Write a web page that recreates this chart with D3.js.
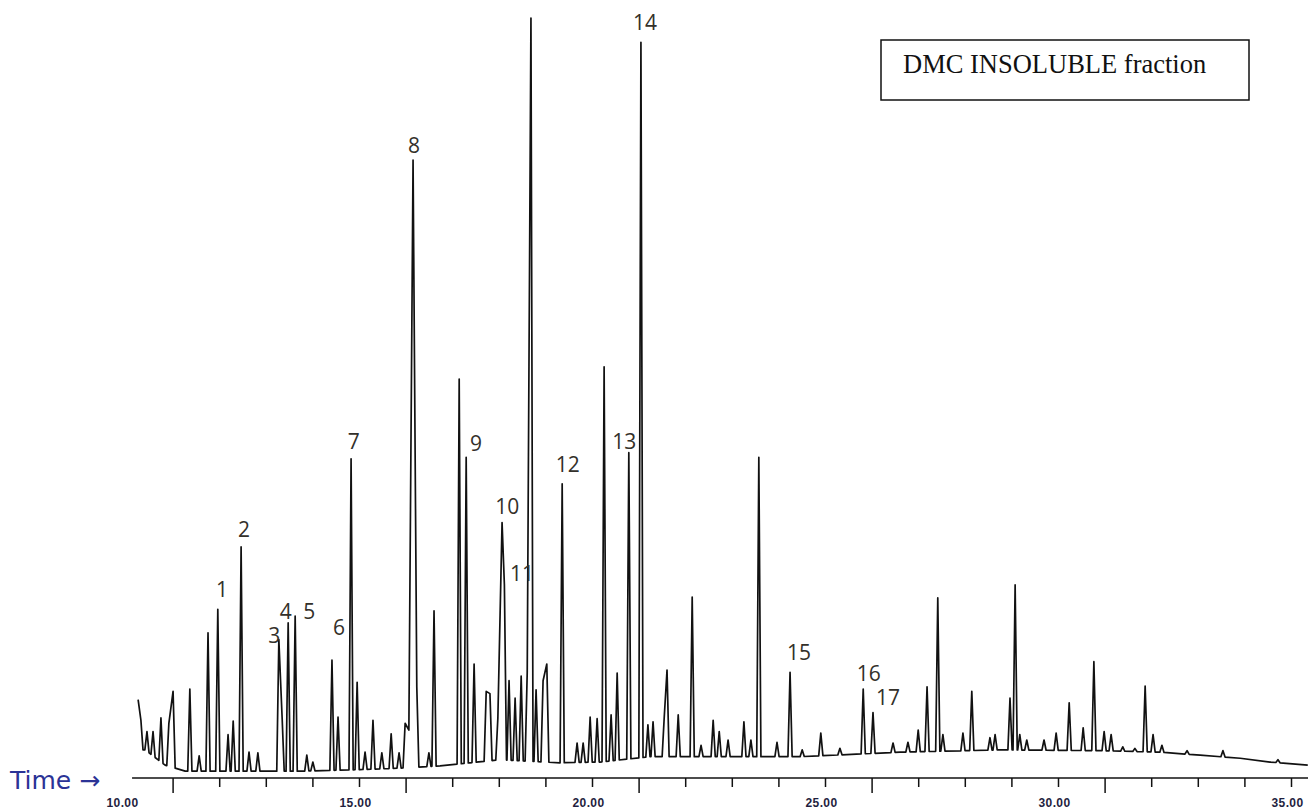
<!DOCTYPE html>
<html>
<head>
<meta charset="utf-8">
<script src="https://cdn.jsdelivr.net/npm/d3@7"></script>
<style>
  html, body { margin: 0; padding: 0; background: #fff; }
  svg { display: block; }
</style>
</head>
<body>
<svg id="chart" width="1308" height="810"></svg>
<script>
// retention time (min) and apex abundance (% of the tallest peak)
const peakTimes = [
  10.26, 10.32, 10.45, 10.58, 10.75, 10.92, 11.01, 11.37, 11.57, 11.76,
  11.97, 12.19, 12.30, 12.47, 12.64, 12.83, 13.28, 13.35, 13.48, 13.63,
  13.88, 14.01, 14.42, 14.55, 14.83, 14.96, 15.13, 15.30, 15.49, 15.69,
  15.86, 15.99, 16.07, 16.16, 16.24, 16.50, 16.61, 17.15, 17.30, 17.47,
  17.73, 17.81, 17.98, 18.07, 18.12, 18.22, 18.35, 18.48, 18.61, 18.69,
  18.80, 18.95, 19.03, 19.36, 19.68, 19.81, 19.96, 20.11, 20.26, 20.41,
  20.54, 20.79, 21.05, 21.20, 21.31, 21.55, 21.61, 21.85, 22.15, 22.34,
  22.60, 22.73, 22.92, 23.26, 23.41, 23.58, 23.97, 24.25, 24.51, 24.91,
  25.32, 25.82, 26.03, 26.46, 26.78, 27.00, 27.19, 27.42, 27.53, 27.96,
  28.15, 28.54, 28.65, 28.97, 29.08, 29.18, 29.33, 29.70, 29.96, 30.24,
  30.54, 30.77, 30.99, 31.14, 31.39, 31.65, 31.87, 32.04, 32.23, 32.77,
  33.54, 34.72
];
const peakLevels = [
  10.3, 7.6, 6.1, 6.1, 7.9, 7.2, 11.4, 11.7, 2.9, 19.1,
  22.2, 5.7, 7.5, 30.4, 3.4, 3.3, 18.2, 8.0, 20.4, 21.3,
  3.0, 2.1, 15.5, 8.0, 42.0, 12.6, 3.4, 7.6, 3.3, 5.8,
  3.3, 7.2, 6.3, 81.3, 12.0, 3.3, 22.0, 52.5, 42.2, 15.0,
  11.4, 11.1, 7.9, 33.6, 25.4, 12.8, 10.5, 13.4, 13.9, 100,
  11.6, 12.8, 15.0, 38.7, 4.6, 4.6, 8.0, 7.8, 54.1, 8.3,
  13.8, 42.8, 96.8, 7.0, 7.4, 8.0, 14.2, 8.3, 23.8, 4.3,
  7.6, 6.1, 5.0, 7.4, 5.0, 42.2, 4.7, 13.9, 3.7, 5.9,
  3.9, 11.7, 8.6, 4.6, 4.7, 6.3, 12.0, 23.7, 5.7, 5.9,
  11.4, 5.3, 5.7, 10.5, 25.4, 5.7, 5.0, 5.0, 5.9, 9.9,
  6.6, 15.3, 6.1, 5.7, 4.1, 3.9, 12.1, 5.7, 4.3, 3.6,
  3.6, 2.4
];

// baseline drift under the peaks
const baselineTimes = [
  10.41, 10.84, 11.27, 12.88, 13.73, 15.02, 15.88, 16.74, 17.38, 18.03,
  19.31, 20.17, 21.24, 22.32, 24.46, 26.61, 28.76, 30.90, 32.19, 33.05,
  33.91, 34.55, 35.36
];
const baselineLevels = [
  3.7, 1.7, 0.9, 0.9, 0.9, 1.1, 1.3, 1.6, 2.0, 2.4,
  2.0, 2.1, 2.8, 2.8, 2.8, 3.4, 3.7, 3.6, 3.4, 3.0,
  2.6, 2.1, 1.7
];

// numbered peak labels, anchored in data units
const labelNames = ["1", "2", "3", "4", "5", "6", "7", "8", "9", "10", "11", "12", "13", "14", "15", "16", "17"];
const labelTimes = [12.06, 12.53, 13.18, 13.43, 13.93, 14.57, 14.89, 16.18, 17.51, 18.18, 18.50, 19.48, 20.69, 21.14, 24.44, 25.94, 26.35];
const labelLevels = [23.8, 31.7, 17.8, 20.9, 20.9, 18.8, 43.3, 82.2, 43.0, 34.7, 25.9, 40.3, 43.3, 98.4, 15.5, 12.8, 9.6];

// axis ticks
const tickTimes = [11, 12, 13, 14, 15, 16, 17, 18, 19, 20, 21, 22, 23, 24, 25, 26, 27, 28, 29, 30, 31, 32, 33, 34, 35];
const longTickTimes = [11, 16, 21, 26, 31];
const tickLabelTimes = [10, 15, 20, 25, 30, 35];

const width = 1308, height = 810;
const svg = d3.select("#chart");

const x = d3.scaleLinear().domain([10, 35]).range([126, 1291]);
const y = d3.scaleLinear().domain([0, 100]).range([778, 18]);
const base = d3.scaleLinear().domain(baselineTimes).range(baselineLevels).clamp(true);

// build the trace: each peak is a narrow spike rising off the baseline
const hw = 0.045;
const pts = [];
peakTimes.forEach((t, i) => {
  const prev = peakTimes[i - 1];
  const next = peakTimes[i + 1];
  if (i > 0 && t - prev >= 2 * hw) pts.push([t - hw, base(t - hw)]);
  pts.push([t, peakLevels[i]]);
  if (next === undefined || next - t >= 2 * hw) pts.push([t + hw, base(t + hw)]);
});
baselineTimes.forEach((t, i) => {
  if (!peakTimes.some(p => Math.abs(p - t) < hw)) pts.push([t, baselineLevels[i]]);
});
pts.sort((a, b) => a[0] - b[0]);

const line = d3.line().x(d => x(d[0])).y(d => y(d[1]));

svg.append("path")
  .datum(pts)
  .attr("d", line)
  .attr("fill", "none")
  .attr("stroke", "#111")
  .attr("stroke-width", 1.7)
  .attr("stroke-linejoin", "round");

// x axis: ticks
const gTicks = svg.append("g")
  .attr("transform", `translate(0,${y(0)})`)
  .call(d3.axisBottom(x).tickValues(tickTimes).tickSize(9).tickFormat(""));
gTicks.select(".domain").remove();
gTicks.selectAll(".tick line")
  .attr("stroke", "#111")
  .attr("stroke-width", 1.5)
  .filter(d => longTickTimes.includes(d))
  .attr("y2", 15);

svg.append("line")
  .attr("x1", x(10.13))
  .attr("x2", width)
  .attr("y1", y(0))
  .attr("y2", y(0))
  .attr("stroke", "#111")
  .attr("stroke-width", 1.5);

// x axis: labels
const gLabels = svg.append("g")
  .attr("transform", `translate(0,${y(0)})`)
  .call(d3.axisBottom(x).tickValues(tickLabelTimes).tickSize(0).tickPadding(20).tickFormat(d3.format(".2f")));
gLabels.select(".domain").remove();
gLabels.selectAll("text")
  .attr("dx", -4)
  .attr("fill", "#1f1f3f")
  .style("font-family", "'Liberation Sans', Arial, sans-serif")
  .style("font-size", "12px")
  .style("font-weight", "bold")
  .style("letter-spacing", "0.4px");

svg.append("text")
  .attr("x", 10)
  .attr("y", 789)
  .attr("fill", "#2b3396")
  .style("font-family", "'DejaVu Sans', sans-serif")
  .style("font-size", "25px")
  .text("Time \u2192");

// peak numbers
svg.append("g")
  .selectAll("text")
  .data(labelNames)
  .enter()
  .append("text")
  .attr("x", (d, i) => x(labelTimes[i]))
  .attr("y", (d, i) => y(labelLevels[i]))
  .attr("text-anchor", "middle")
  .attr("fill", "#33302a")
  .style("font-family", "'Open Sans', sans-serif")
  .style("font-size", "21px")
  .text(d => d);

// title box
const box = svg.append("g");
box.append("rect")
  .attr("x", 881)
  .attr("y", 40)
  .attr("width", 368)
  .attr("height", 60)
  .attr("fill", "#fff")
  .attr("stroke", "#111")
  .attr("stroke-width", 1.5);
box.append("text")
  .attr("x", 903)
  .attr("y", 73)
  .attr("fill", "#111")
  .style("font-family", "'Liberation Serif', 'Times New Roman', serif")
  .style("font-size", "26.5px")
  .text("DMC INSOLUBLE fraction");
</script>
</body>
</html>
